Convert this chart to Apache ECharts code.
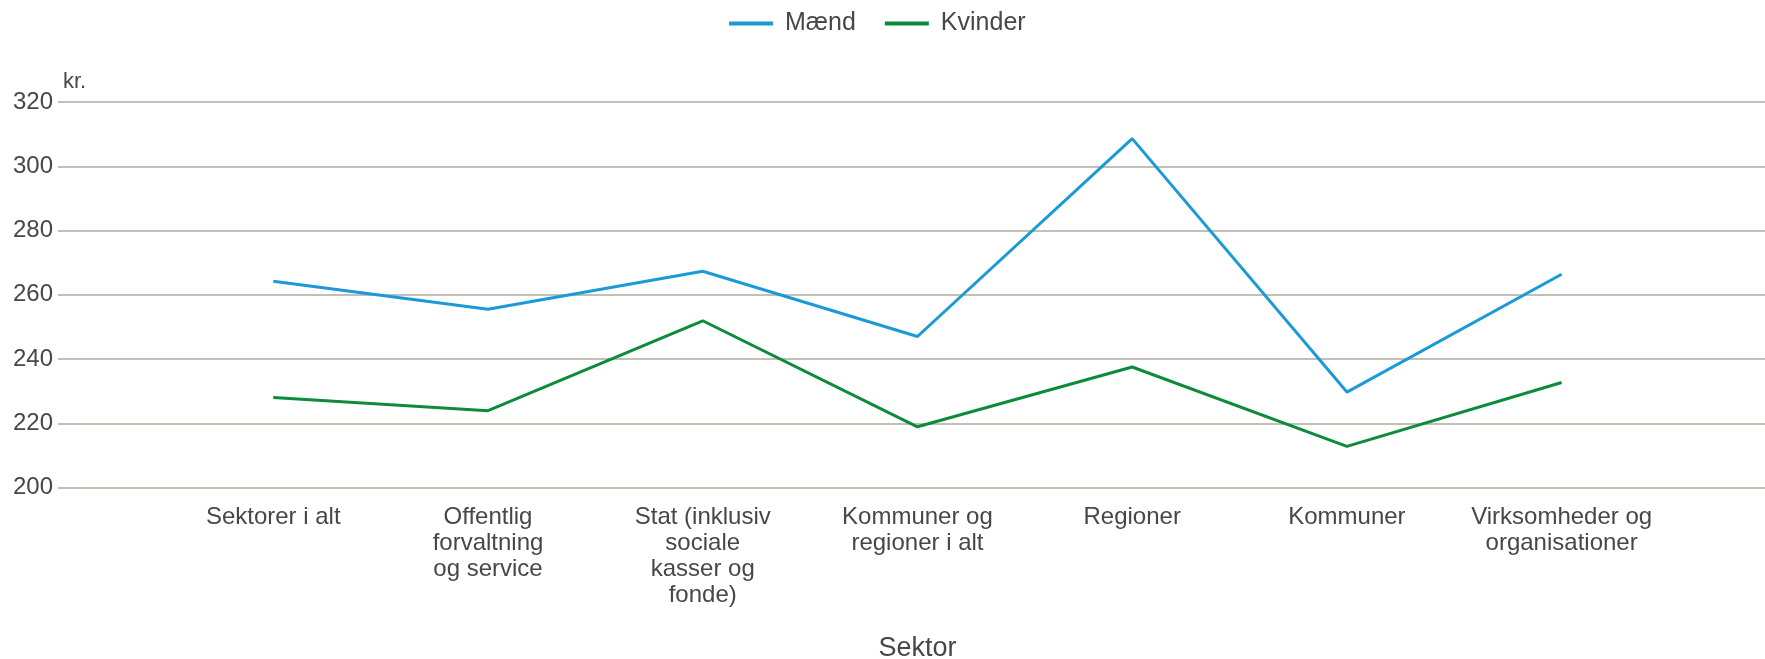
<!DOCTYPE html>
<html>
<head>
<meta charset="utf-8">
<script src="https://cdn.jsdelivr.net/npm/echarts@6/dist/echarts.min.js"></script>
<style>
  html, body { margin: 0; padding: 0; background: #ffffff; }
  #chart { width: 1765px; height: 659px; }
</style>
</head>
<body>
<div id="chart"></div>
<script>
const categories = [
  'Sektorer i alt',
  'Offentlig\nforvaltning\nog service',
  'Stat (inklusiv\nsociale\nkasser og\nfonde)',
  'Kommuner og\nregioner i alt',
  'Regioner',
  'Kommuner',
  'Virksomheder og\norganisationer'
];
const maend   = [264.2, 255.5, 267.3, 247.0, 308.6, 229.7, 266.4];
const kvinder = [228.0, 223.9, 251.9, 218.9, 237.5, 212.8, 232.7];
const seriesNames = ['Mænd', 'Kvinder'];
const yMin = 200, yMax = 320, yStep = 20;

const FONT = '"Liberation Sans", Arial, sans-serif';
const TEXT = '#474747';

const chart = echarts.init(document.getElementById('chart'), null, { renderer: 'canvas' });
chart.setOption({
  animation: false,
  backgroundColor: '#ffffff',
  textStyle: { fontFamily: FONT },
  legend: {
    top: 11,
    left: 729,
    padding: 0,
    itemGap: 29,
    itemWidth: 44,
    itemHeight: 4,
    icon: 'rect',
    data: seriesNames,
    textStyle: { fontFamily: FONT, fontSize: 25, color: TEXT, padding: [0, 0, 0, 7] }
  },
  grid: [
    { left: 58, right: 0, top: 102, bottom: 171.5, containLabel: false, outerBoundsMode: 'none' },
    { left: 165.9, width: 1503.1, top: 102, bottom: 171.5, containLabel: false, outerBoundsMode: 'none' }
  ],
  xAxis: [
    { gridIndex: 0, type: 'category', data: categories, show: false },
    {
      gridIndex: 1,
      type: 'category',
      data: categories,
      boundaryGap: true,
      axisLine: { show: false },
      axisTick: { show: false },
      axisLabel: {
        interval: 0,
        margin: 17,
        fontFamily: FONT,
        fontSize: 24,
        lineHeight: 26,
        color: TEXT,
        align: 'center'
      },
      name: 'Sektor',
      nameLocation: 'middle',
      nameGap: 148,
      nameTextStyle: { fontFamily: FONT, fontSize: 27, color: TEXT }
    }
  ],
  yAxis: [
    {
      gridIndex: 0,
      type: 'value',
      min: yMin,
      max: yMax,
      interval: yStep,
      axisLine: { show: false },
      axisTick: { show: false },
      axisLabel: { margin: 5, fontFamily: FONT, fontSize: 24, color: TEXT },
      splitLine: { show: true, lineStyle: { color: '#c2bfb4', width: 2 } },
      name: 'kr.',
      nameLocation: 'end',
      nameGap: 20,
      nameTextStyle: { fontFamily: FONT, fontSize: 22, color: TEXT, align: 'left', verticalAlign: 'middle', padding: [0, 0, 0, 5] }
    },
    {
      gridIndex: 1,
      type: 'value',
      min: yMin,
      max: yMax,
      interval: yStep,
      show: false,
      splitLine: { show: false }
    }
  ],
  series: [
    {
      name: seriesNames[0],
      type: 'line',
      xAxisIndex: 1,
      yAxisIndex: 1,
      data: maend,
      symbol: 'none',
      color: '#1a9ad6',
      lineStyle: { width: 3, color: '#1a9ad6' }
    },
    {
      name: seriesNames[1],
      type: 'line',
      xAxisIndex: 1,
      yAxisIndex: 1,
      data: kvinder,
      symbol: 'none',
      color: '#0e8a3c',
      lineStyle: { width: 3, color: '#0e8a3c' }
    }
  ]
});
</script>
</body>
</html>
